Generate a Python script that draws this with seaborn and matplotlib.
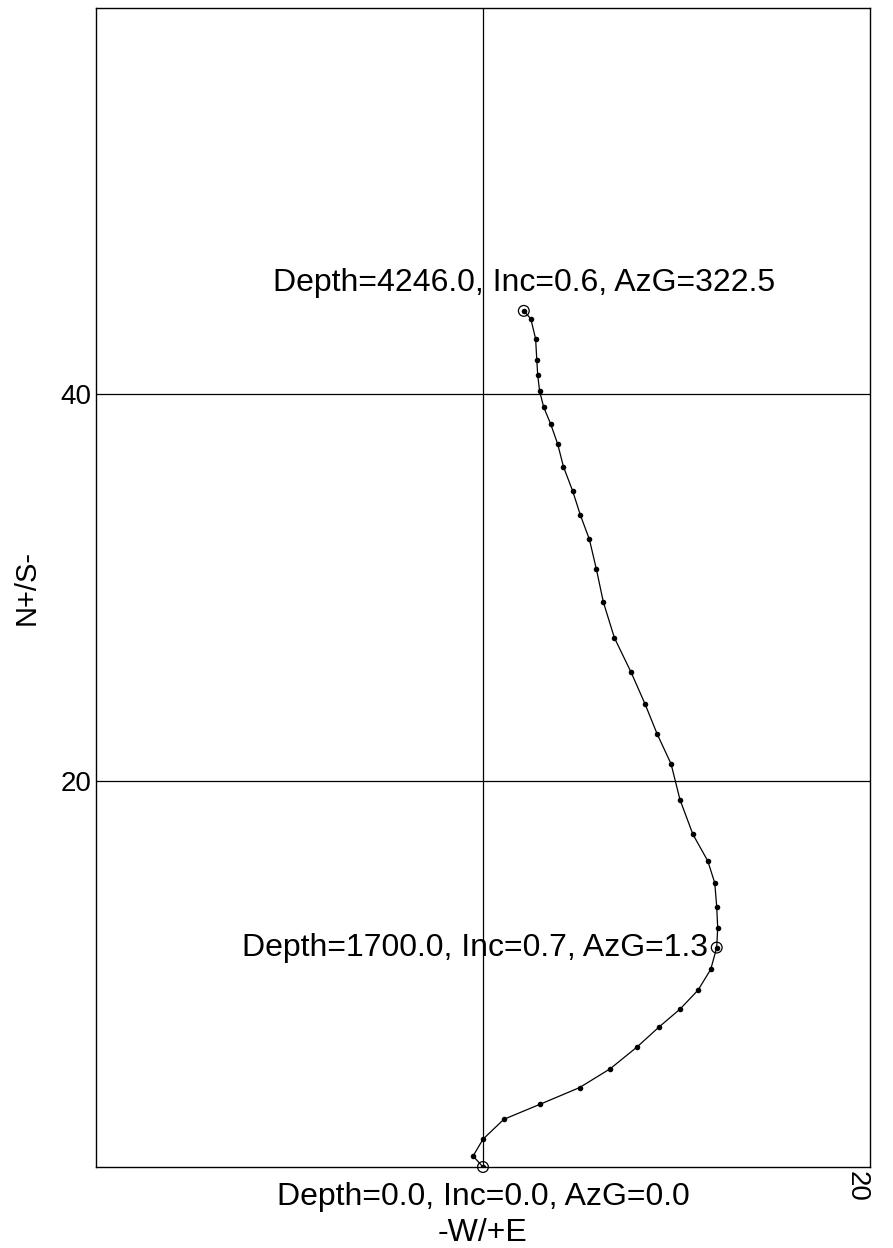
import matplotlib
matplotlib.use("Agg")
import matplotlib.pyplot as plt
import seaborn as sns
import pandas as pd

# Survey path (East-West offset, North-South offset)
ew = [0.0, -0.51, 0.0, 1.08, 2.93, 4.99, 6.58, 7.97, 9.10, 10.18, 11.11, 11.77, 12.08,
      12.13, 12.08, 11.98, 11.62, 10.85, 10.18, 9.72, 9.00, 8.38, 7.66, 6.79, 6.22,
      5.86, 5.50, 5.04, 4.63, 4.16, 3.86, 3.50, 3.14, 2.93, 2.83, 2.78, 2.72, 2.47, 2.11]
ns = [0.0, 0.57, 1.44, 2.47, 3.24, 4.11, 5.09, 6.22, 7.25, 8.17, 9.15, 10.23, 11.36,
      12.39, 13.47, 14.70, 15.84, 17.22, 19.02, 20.87, 22.42, 23.96, 25.60, 27.40, 29.25,
      30.95, 32.49, 33.73, 35.01, 36.25, 37.43, 38.46, 39.33, 40.15, 40.98, 41.80, 42.88,
      43.91, 44.32]

# Annotated stations
label_idx = [0, 12, 38]
label_text = ["Depth=0.0, Inc=0.0, AzG=0.0",
              "Depth=1700.0, Inc=0.7, AzG=1.3",
              "Depth=4246.0, Inc=0.6, AzG=322.5"]

yticks = [20, 40]
ytick_labels = ["20", "40"]
xticks = [20]
xtick_labels = ["20"]

sns.set_style("white")
plt.rcParams['font.family'] = ['Liberation Sans', 'DejaVu Sans']
plt.rcParams['text.color'] = 'black'
plt.rcParams['xtick.color'] = 'black'
plt.rcParams['ytick.color'] = 'black'
plt.rcParams['axes.labelcolor'] = 'black'

fig = plt.figure(figsize=(8.93, 12.48), dpi=100)
ax = fig.add_axes([0.1075, 0.0649, 0.8667, 0.9287])

df = pd.DataFrame({"ew": ew, "ns": ns})
sns.lineplot(data=df, x="ew", y="ns", sort=False, estimator=None, color="black",
             linewidth=0.9, marker="o", markersize=4, markeredgewidth=0,
             markerfacecolor="black", ax=ax)

# special stations: open circle with dot
lx = [ew[i] for i in label_idx]
ly = [ns[i] for i in label_idx]
sns.scatterplot(x=lx, y=ly, s=60, facecolor="none", edgecolor="black", linewidth=0.9,
                ax=ax, clip_on=False, zorder=5)

ax.set_xlim(-20, 20)
ax.set_ylim(0, 60)

ax.axvline(0, color="black", linewidth=0.9, zorder=0)
for yv in yticks:
    ax.axhline(yv, color="black", linewidth=0.9, zorder=0)

ax.set_yticks(yticks)
ax.set_yticklabels(ytick_labels, fontsize=20)
ax.set_xticks(xticks)
ax.set_xticklabels(xtick_labels, fontsize=20, rotation=-90, va="top", ha="right")
ax.tick_params(axis="both", length=0, pad=3)

for sp in ax.spines.values():
    sp.set_color("black")
    sp.set_linewidth(1.0)

ax.set_xlabel("-W/+E", fontsize=23)
ax.xaxis.set_label_coords(0.5, -0.044)
ax.set_ylabel("N+/S-", fontsize=21)
ax.yaxis.set_label_coords(-0.072, 0.5)

# annotations
ax.annotate(label_text[2], (lx[2], ly[2]), xytext=(0, 9), textcoords="offset points",
            ha="center", va="bottom", fontsize=23)
ax.annotate(label_text[1], (lx[1], ly[1]), xytext=(-6, 0), textcoords="offset points",
            ha="right", va="center", fontsize=23)
ax.annotate(label_text[0], (lx[0], ly[0]), xytext=(0, -11), textcoords="offset points",
            ha="center", va="top", fontsize=23, annotation_clip=False)

fig.savefig("out.png", dpi=100)
